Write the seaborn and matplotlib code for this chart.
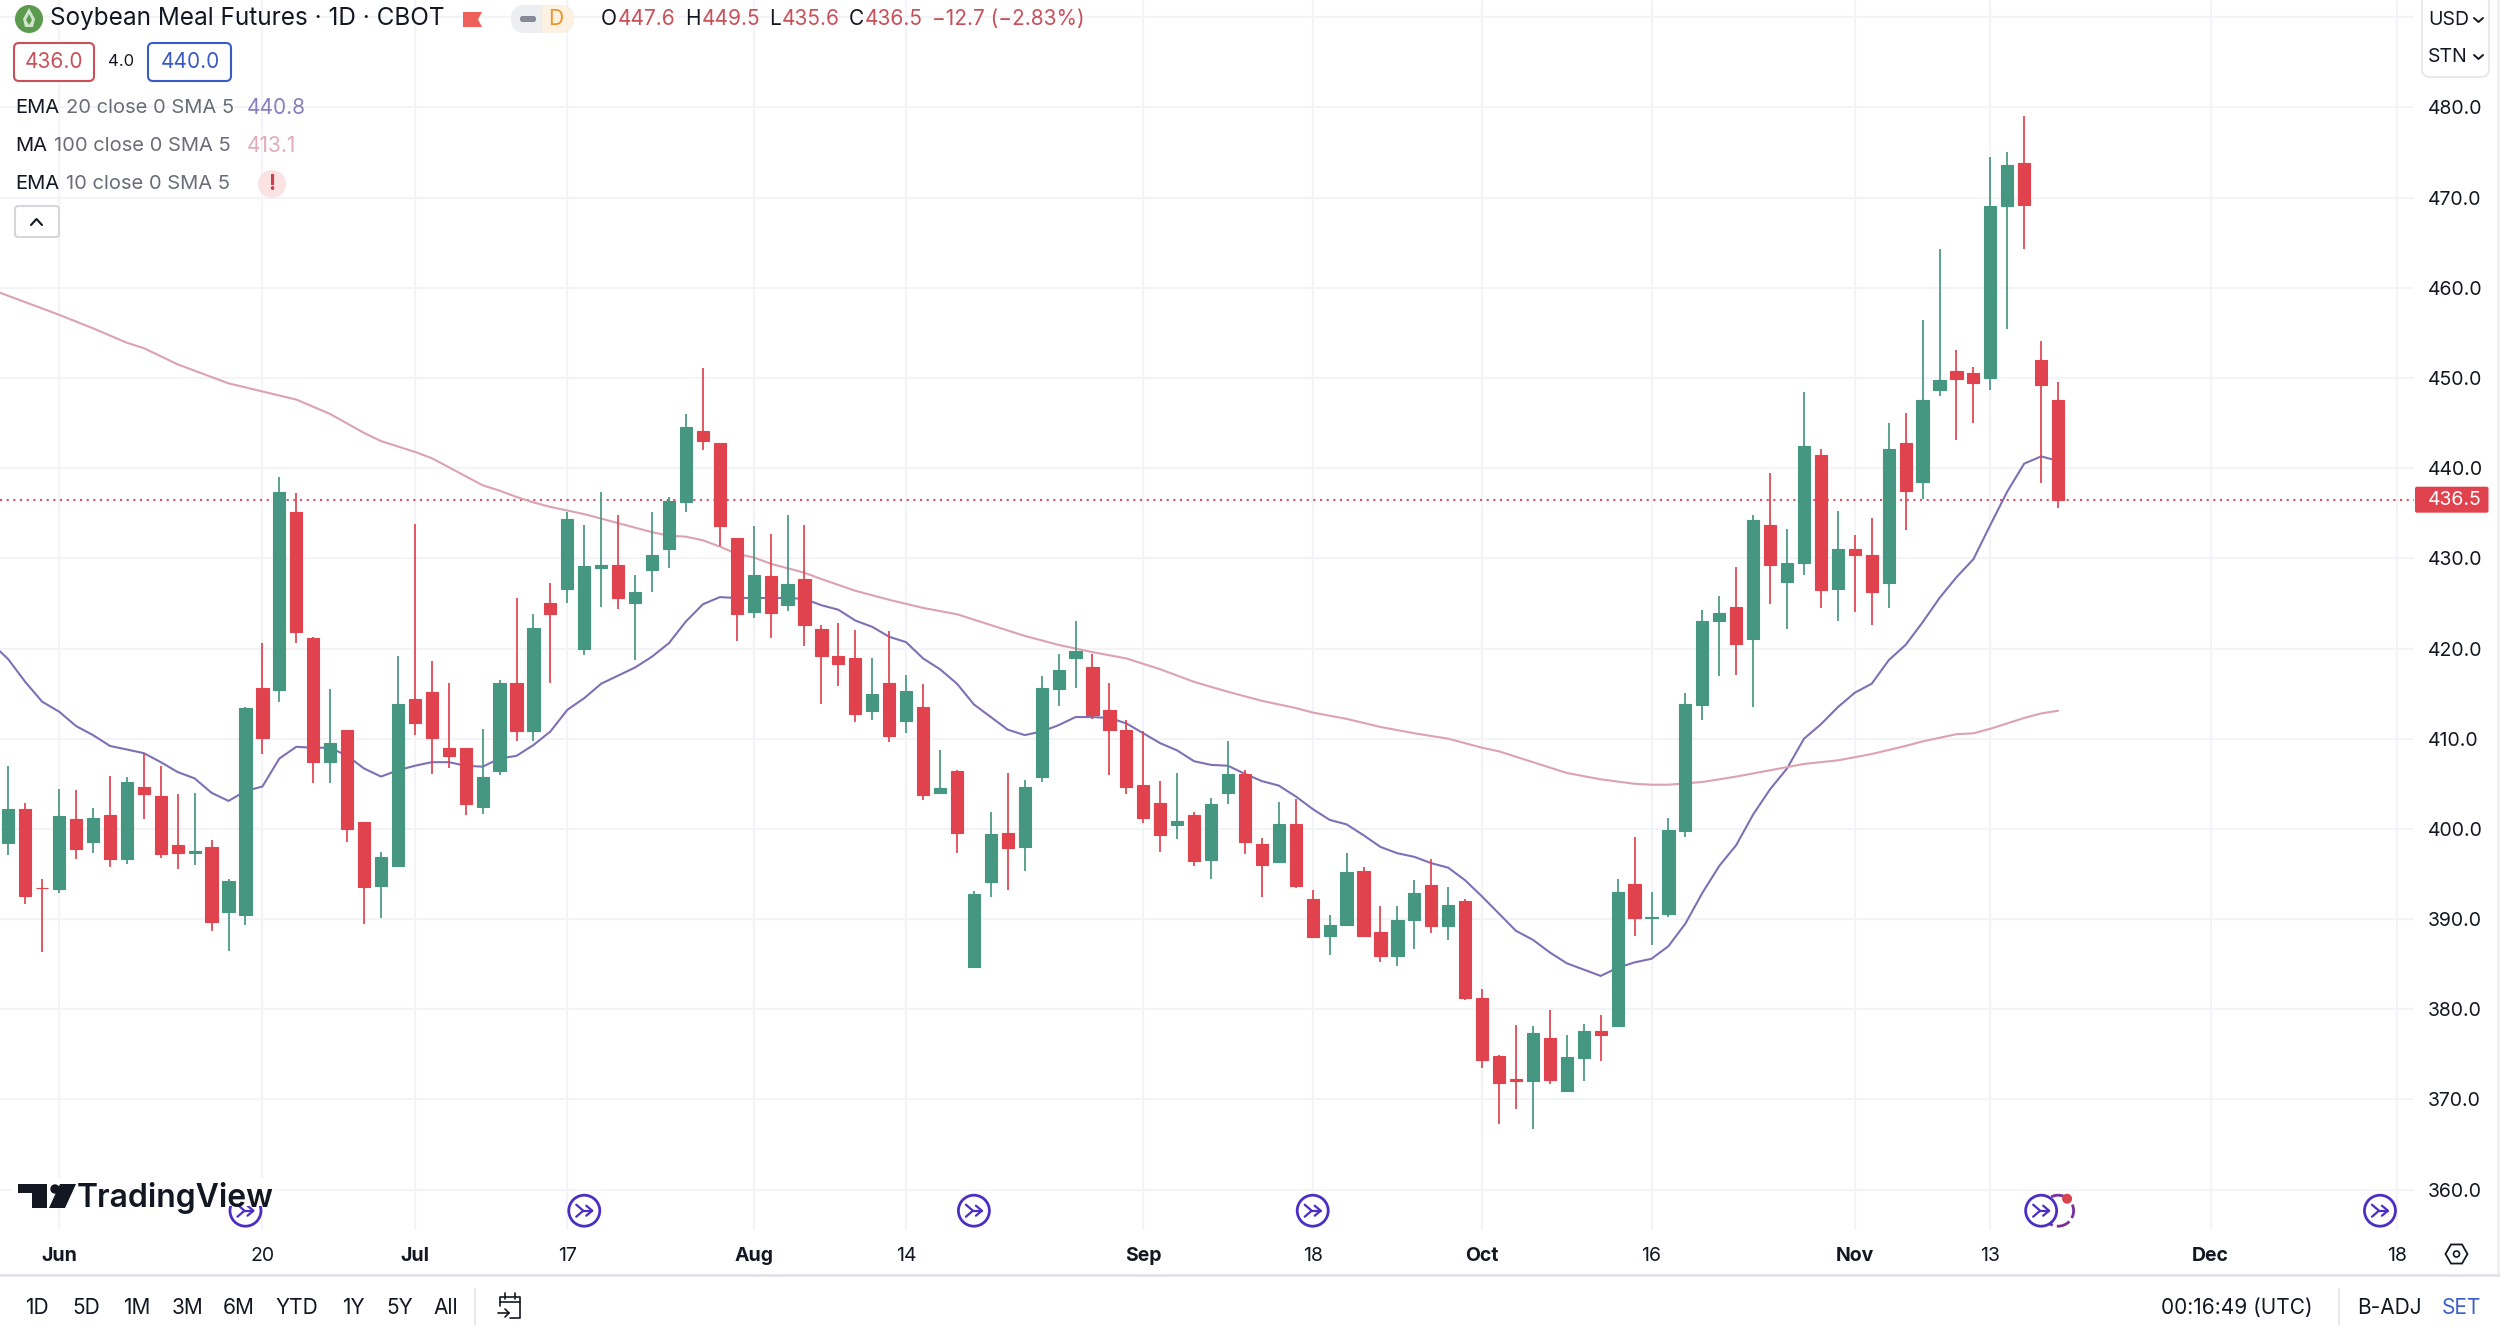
import numpy as np
import pandas as pd
import matplotlib
matplotlib.use('Agg')
import matplotlib.pyplot as plt
from matplotlib.patches import Circle, FancyBboxPatch, Polygon, Rectangle, RegularPolygon
import seaborn as sns

# Candle values, one entry per trading day
opens = [398.4, 402.2, 393.5, 393.3, 401.1, 398.5, 401.5, 396.7, 404.7, 403.6,
         398.2, 397.3, 398.0, 390.8, 390.4, 415.6, 415.4, 435.1, 421.2, 407.4,
         411.0, 400.8, 393.7, 395.9, 414.4, 415.2, 409.0, 409.0, 402.4, 406.4,
         416.2, 410.9, 425.0, 426.6, 420.0, 428.9, 429.3, 425.0, 428.7, 431.0,
         436.2, 444.1, 442.8, 432.2, 424.1, 428.0, 424.8, 427.7, 422.2, 419.2,
         419.0, 413.1, 416.2, 412.0, 413.5, 404.0, 406.4, 384.7, 394.1, 399.5,
         398.0, 405.7, 415.5, 418.9, 418.0, 413.2, 411.0, 404.9, 402.9, 400.4,
         401.5, 396.6, 404.0, 406.1, 398.3, 396.3, 400.5, 392.2, 388.1, 389.3,
         395.3, 388.6, 385.9, 389.9, 393.8, 389.2, 392.0, 381.3, 374.8, 372.3,
         372.0, 376.8, 370.9, 374.6, 377.6, 378.1, 393.9, 390.1, 390.6, 399.8,
         413.7, 423.0, 424.6, 421.0, 433.7, 427.4, 429.5, 441.4, 426.6, 431.0,
         430.4, 427.3, 442.8, 438.5, 448.7, 450.8, 450.5, 450.0, 469.1, 473.8,
         452.0, 447.6]
highs = [407.0, 402.9, 394.5, 404.4, 404.3, 402.3, 405.9, 405.8, 408.3, 407.0,
         403.9, 404.0, 398.8, 394.5, 413.5, 420.6, 439.0, 437.2, 421.3, 415.5,
         411.0, 400.8, 397.4, 419.2, 433.8, 418.6, 416.2, 409.0, 411.1, 416.5,
         425.6, 423.8, 427.3, 435.1, 433.7, 437.4, 434.8, 428.1, 435.1, 436.8,
         446.0, 451.1, 442.8, 432.3, 433.6, 432.7, 434.8, 433.7, 422.6, 422.8,
         422.0, 419.0, 421.9, 417.1, 416.1, 408.8, 406.5, 393.1, 401.9, 406.2,
         405.4, 416.9, 419.4, 423.0, 419.4, 416.2, 412.1, 410.9, 405.3, 406.2,
         401.9, 403.4, 409.8, 406.5, 399.0, 403.0, 403.3, 393.2, 390.4, 397.3,
         395.8, 391.5, 391.4, 394.3, 396.7, 393.6, 392.2, 382.2, 374.9, 378.3,
         378.1, 379.9, 377.2, 378.4, 379.4, 394.5, 399.1, 393.0, 401.2, 415.1,
         424.3, 425.8, 429.0, 434.8, 439.5, 433.2, 448.4, 442.1, 435.3, 432.6,
         434.5, 445.0, 446.1, 456.4, 464.3, 453.1, 451.2, 474.5, 475.0, 479.0,
         454.1, 449.5]
lows = [397.1, 391.7, 386.3, 392.9, 396.7, 397.3, 395.8, 396.1, 401.1, 396.8,
        395.6, 396.0, 388.7, 386.5, 389.4, 408.3, 414.1, 420.6, 405.1, 405.1,
        398.5, 389.5, 390.1, 395.9, 410.4, 406.1, 406.8, 401.5, 401.7, 406.0,
        409.7, 409.8, 416.2, 425.0, 419.3, 424.6, 424.4, 418.7, 426.3, 428.9,
        435.1, 442.0, 431.4, 420.8, 423.4, 421.2, 424.2, 420.3, 413.9, 415.8,
        411.9, 412.1, 409.6, 410.6, 403.2, 403.9, 397.3, 384.7, 392.4, 393.2,
        395.3, 405.2, 413.6, 415.6, 412.2, 406.0, 403.9, 400.6, 397.4, 398.9,
        395.9, 394.5, 402.8, 397.2, 392.5, 396.3, 393.5, 387.9, 386.0, 389.2,
        388.0, 385.2, 384.8, 386.7, 388.5, 387.7, 381.0, 373.5, 367.3, 368.9,
        366.7, 371.7, 370.8, 372.0, 374.3, 378.1, 388.1, 387.1, 390.2, 399.1,
        412.1, 417.0, 417.1, 413.5, 424.9, 422.2, 428.2, 424.5, 423.1, 424.1,
        422.6, 424.5, 433.1, 436.6, 448.0, 443.1, 445.0, 448.7, 455.4, 464.3,
        438.3, 435.6]
closes = [402.2, 392.6, 393.4, 401.4, 397.8, 401.2, 396.7, 405.2, 403.9, 397.2,
          397.3, 397.5, 389.7, 394.2, 413.4, 410.1, 437.3, 421.8, 407.4, 409.5,
          400.0, 393.6, 396.9, 413.9, 411.7, 410.1, 408.1, 402.8, 405.8, 416.2,
          410.9, 422.3, 423.8, 434.4, 429.1, 429.3, 425.6, 426.3, 430.4, 436.3,
          444.6, 443.0, 433.6, 423.8, 428.1, 423.9, 427.1, 422.6, 419.2, 418.3,
          412.7, 415.0, 410.3, 415.3, 403.8, 404.5, 399.5, 392.8, 399.4, 397.9,
          404.6, 415.6, 417.6, 419.7, 412.6, 411.0, 404.7, 401.2, 399.3, 400.9,
          396.4, 402.8, 406.1, 398.5, 396.0, 400.5, 393.7, 388.0, 389.3, 395.2,
          388.1, 385.9, 389.9, 392.9, 389.2, 391.6, 381.3, 374.4, 371.8, 372.1,
          377.4, 372.2, 374.7, 377.6, 377.2, 393.0, 390.1, 390.2, 399.9, 413.9,
          423.0, 423.9, 420.5, 434.3, 429.3, 429.5, 442.5, 426.5, 431.0, 430.4,
          426.3, 442.1, 437.5, 447.5, 449.8, 449.9, 449.4, 469.1, 473.6, 469.2,
          449.2, 436.5]

# EMA 20, starts one day left of the first candle
ema_values = [420.6, 418.8, 416.3, 414.1, 413.0, 411.4, 410.4, 409.2, 408.8, 408.4, 407.4,
              406.3, 405.6, 404.0, 403.1, 404.2, 404.7, 407.8, 409.1, 409.0, 409.0,
              408.1, 406.7, 405.8, 406.5, 407.0, 407.4, 407.4, 407.0, 406.9, 407.8,
              408.1, 409.3, 410.8, 413.2, 414.5, 416.1, 417.0, 417.9, 419.1, 420.6,
              423.0, 424.9, 425.7, 425.6, 425.6, 425.6, 425.6, 425.5, 424.8, 424.3,
              423.1, 422.4, 421.3, 420.7, 418.9, 417.7, 416.1, 413.8, 412.4, 411.0,
              410.4, 410.8, 411.5, 412.4, 412.4, 412.3, 411.7, 410.6, 409.5, 408.7,
              407.5, 407.1, 407.0, 406.1, 405.3, 404.8, 403.6, 402.2, 401.0, 400.5,
              399.3, 398.0, 397.3, 396.9, 396.2, 395.7, 394.3, 392.5, 390.6, 388.7,
              387.7, 386.3, 385.1, 384.4, 383.7, 384.6, 385.2, 385.6, 387.0, 389.5,
              392.9, 395.9, 398.2, 401.6, 404.4, 406.7, 410.0, 411.6, 413.5, 415.1,
              416.1, 418.7, 420.4, 422.9, 425.6, 427.9, 429.9, 433.7, 437.4, 440.5,
              441.3, 440.8]

# MA 100, read at these bars only
ma_bars = [-1, 3, 5, 7, 8, 10, 12, 13, 15, 17, 19, 21, 22, 23, 24, 25, 26, 27, 28, 29,
           30, 31, 32, 33, 34, 35, 36, 37, 38, 39, 40, 41, 42, 43, 44, 45, 46, 47, 48,
           50, 52, 54, 56, 58, 60, 62, 64, 66, 68, 70, 72, 74, 76, 77, 79, 81, 83, 85,
           87, 88, 90, 92, 94, 96, 97, 98, 100, 102, 104, 106, 108, 110, 112, 113,
           115, 116, 117, 118, 119, 120, 121]
ma_values = [459.8, 457.0, 455.5, 453.9, 453.3, 451.5, 450.1, 449.4, 448.5, 447.6, 446.0,
             443.9, 443.0, 442.4, 441.8, 441.1, 440.1, 439.1, 438.1, 437.5, 436.8, 436.2,
             435.7, 435.3, 434.9, 434.4, 433.9, 433.4, 432.9, 432.5, 432.4, 432.0, 431.3,
             430.5, 430.1, 429.4, 428.9, 428.4, 427.7, 426.4, 425.4, 424.5, 423.8, 422.6,
             421.4, 420.4, 419.6, 418.9, 417.7, 416.3, 415.2, 414.2, 413.4, 412.9, 412.2,
             411.3, 410.6, 410.0, 409.0, 408.6, 407.4, 406.2, 405.5, 405.0, 404.9, 404.9,
             405.2, 405.8, 406.5, 407.2, 407.6, 408.3, 409.2, 409.7, 410.5, 410.6, 411.1,
             411.7, 412.3, 412.8, 413.1]

y_ticks = [360, 370, 380, 390, 400, 410, 420, 430, 440, 450, 460, 470, 480, 490]
x_tick_bars = [3, 15, 24, 33, 44, 53, 67, 77, 87, 97, 109, 117, 130, 141]
x_tick_labels = ['Jun', '20', 'Jul', '17', 'Aug', '14', 'Sep', '18', 'Oct', '16', 'Nov', '13', 'Dec', '18']
event_bars = [14, 34, 57, 77, 120, 140]
dividend_bar = 121
last_price = 436.5

GREEN = '#469781'
RED = '#e1434e'
GRID = '#f3f4f7'
INK = '#131722'
GREY = '#6a6d78'
PURPLE = '#4b2fc4'

sns.set_theme(style='white')
plt.rcParams['font.family'] = ['Inter', 'DejaVu Sans']

fig = plt.figure(figsize=(25, 13.25), dpi=100, facecolor='white')
ax = fig.add_axes([0, 95 / 1325, 2414 / 2500, 1230 / 1325])

candles = pd.DataFrame({'open': opens, 'high': highs, 'low': lows, 'close': closes})
candles['bar'] = np.arange(len(candles))
candles['colour'] = np.where(candles['close'] >= candles['open'], GREEN, RED)
ema_df = pd.DataFrame({'bar': np.arange(-1, len(ema_values) - 1), 'value': ema_values})
ma_df = pd.DataFrame({'bar': ma_bars, 'value': ma_values})

sns.lineplot(data=ema_df, x='bar', y='value', color='#7f70b6', linewidth=1.5, ax=ax, zorder=2)
sns.lineplot(data=ma_df, x='bar', y='value', color='#dca2b1', linewidth=1.5, ax=ax, zorder=2)

ax.axhline(last_price, color='#d9505c', linewidth=1.5, linestyle=(0, (1, 2.2)), zorder=1.5)

ax.vlines(candles['bar'], candles['low'], candles['high'], colors=candles['colour'], linewidth=1.25, zorder=3)
body_low = candles[['open', 'close']].min(axis=1)
body_high = candles[['open', 'close']].max(axis=1)
ax.bar(candles['bar'], body_high - body_low, bottom=body_low, width=0.72,
       color=candles['colour'], edgecolor=candles['colour'], linewidth=0.8, zorder=4)

ax.set_xlim(-0.49, 142.01)
ax.set_ylim(355.53, 491.9)
ax.set_xlabel('')
ax.set_ylabel('')
ax.set_xticks(x_tick_bars)
ax.set_xticklabels(x_tick_labels)
ax.set_yticks(y_ticks)
ax.set_yticklabels([f'{v:.1f}' if v < 490 else '' for v in y_ticks])
ax.yaxis.tick_right()
ax.tick_params(axis='y', length=0, pad=10, labelsize=14, labelcolor=INK)
ax.tick_params(axis='x', length=0, pad=12, labelsize=14, labelcolor=INK)
for tick_label, name in zip(ax.get_xticklabels(), x_tick_labels):
    if not name.isdigit():
        tick_label.set_fontweight('bold')
ax.grid(True, color=GRID, linewidth=1.5)
ax.set_axisbelow(True)
sns.despine(ax=ax, left=True, bottom=True, right=True, top=True)

# Everything around the chart lives on an overlay measured in image pixels
ov = fig.add_axes([0, 0, 1, 1], facecolor='none')
ov.set_xlim(0, 2500)
ov.set_ylim(1325, 0)
ov.axis('off')


def label(x, y, text, size=14, color=INK, ha='left', **kw):
    kw.setdefault('zorder', 7)
    ov.text(x, y, text, fontsize=size, color=color, ha=ha, va='center', **kw)


def box(x0, y0, x1, y1, face='white', edge='none', lw=1.5, radius=5, z=5):
    ov.add_patch(FancyBboxPatch((x0, y0), x1 - x0, y1 - y0, boxstyle=f'round,pad=0,rounding_size={radius}',
                                facecolor=face, edgecolor=edge, linewidth=lw, zorder=z))


def stroke(xs, ys, color=INK, lw=1.5, z=7):
    ov.plot(xs, ys, color=color, linewidth=lw, solid_capstyle='round', solid_joinstyle='round', zorder=z)


def event_icon(cx, cy):
    ov.add_patch(Circle((cx, cy), 15.5, facecolor='white', edgecolor=PURPLE, linewidth=2, zorder=5))
    stroke([cx - 8, cx - 1, cx - 8], [cy - 6, cy, cy + 6], PURPLE, 1.6, 6)
    stroke([cx - 1, cx + 8], [cy, cy], PURPLE, 1.6, 6)
    stroke([cx + 2, cx + 8, cx + 2], [cy - 5, cy, cy + 5], PURPLE, 1.6, 6)


# Header row
ov.add_patch(Circle((29, 19), 14, facecolor='#5c9a4f', edgecolor='none'))
ov.add_patch(Polygon([(29, 8), (35, 19), (33, 27), (25, 27), (23, 19)], facecolor='#cfe4ca', edgecolor='none', zorder=3))
ov.add_patch(Polygon([(29, 14), (32, 20), (29, 25), (26, 20)], facecolor='#5c9a4f', edgecolor='none', zorder=4))
label(50, 19, 'Soybean Meal Futures · 1D · CBOT', 17.5)
ov.add_patch(Polygon([(463, 12), (482, 12), (478, 19.5), (482, 27), (463, 27)], facecolor='#f0605a', edgecolor='none'))
box(511, 5, 574, 33, face='#eceef2', radius=14)
ov.add_patch(Rectangle((542, 5), 18, 28, facecolor='#fdf1e2', edgecolor='none', zorder=5.5))
ov.add_patch(Circle((560, 19), 14, facecolor='#fdf1e2', edgecolor='none', zorder=5.5))
box(520, 16, 536, 22, face='#868a94', radius=2.5, z=6)
label(556, 19, 'D', 15, '#f0932b', ha='center')

ohlc_red = '#c8505a'
for x, text, color in [(601, 'O', INK), (618, '447.6', ohlc_red), (685, 'H', INK), (702, '449.5', ohlc_red),
                       (769, 'L', INK), (782, '435.6', ohlc_red), (849, 'C', INK), (865, '436.5', ohlc_red),
                       (932, '−12.7 (−2.83%)', ohlc_red)]:
    label(x, 19, text, 15, color)

# Bid / ask boxes
box(14, 43, 94, 81, edge='#c8505a')
label(54, 62, '436.0', 15, '#c8505a', ha='center')
label(121, 62, '4.0', 12, INK, ha='center')
box(148, 43, 231, 81, edge='#3a5bc7')
label(190, 62, '440.0', 15, '#3a5bc7', ha='center')

# Indicator legend
label(15, 108, 'EMA', 14.5)
label(66, 108, '20 close 0 SMA 5', 14.5, GREY)
label(247, 108, '440.8', 15, '#8a7ebd')
label(15, 146, 'MA', 14.5)
label(54, 146, '100 close 0 SMA 5', 14.5, GREY)
label(247, 146, '413.1', 15, '#e2abba')
label(15, 184, 'EMA', 14.5)
label(66, 184, '10 close 0 SMA 5', 14.5, GREY)
ov.add_patch(Circle((272, 184), 14, facecolor='#fbe3e4', edgecolor='none'))
label(272, 184, '!', 15, '#c8414c', ha='center', fontweight='bold')
box(15, 206, 59, 237, edge='#d5d7dd', radius=3)
stroke([31, 36.5, 42], [225, 219, 225], INK, 1.5)

# Currency and unit selectors
box(2422, -6, 2489, 77, edge='#e8e9ee', radius=8)
label(2428, 20, 'USD', 14)
stroke([2474, 2478.5, 2483], [18, 22, 18], INK, 1.4)
label(2428, 57, 'STN', 14)
stroke([2474, 2478.5, 2483], [55, 59, 55], INK, 1.4)
ov.add_patch(Rectangle((2497, 0), 3, 1275, facecolor='#f0f1f4', edgecolor='none'))

# Last price tag, placed through the price scale
tag_y = 1325 - ax.transData.transform((0, last_price))[1]
box(2415, tag_y - 13, 2488.5, tag_y + 13, face=RED, radius=2)
label(2428, tag_y, f'{last_price:.1f}', 14, 'white')

# Event icons sit on the bars they belong to
icon_y = 1210.7
for bar in event_bars:
    px = ax.transData.transform((bar, 0))[0]
    if bar == event_bars[-2]:
        rx = ax.transData.transform((dividend_bar, 0))[0]
        ov.add_patch(Circle((rx, icon_y), 15.5, facecolor='white', edgecolor='#7a2f9c', linewidth=2, linestyle=(0, (5, 1.5)), zorder=4))
        ov.add_patch(Circle((rx + 9, icon_y - 12), 5, facecolor='#d9434e', edgecolor='none', zorder=6))
    event_icon(px, icon_y)

# TradingView watermark covers what runs behind it
ov.add_patch(Rectangle((12, 1178), 262, 28, facecolor='white', edgecolor='none', zorder=8))
ov.add_patch(Polygon([(17.5, 1184), (47, 1184), (47, 1208), (32, 1208), (32, 1193), (17.5, 1193)], facecolor=INK, edgecolor='none', zorder=9))
ov.add_patch(Circle((55, 1189), 4.7, facecolor=INK, edgecolor='none', zorder=9))
ov.add_patch(Polygon([(60, 1184), (76, 1184), (65, 1208), (49, 1208)], facecolor=INK, edgecolor='none', zorder=9))
label(77, 1197.5, 'TradingView', 23, INK, fontweight='semibold', zorder=9)

# Settings glyph at the end of the time axis
ov.add_patch(RegularPolygon((2456.5, 1254), 6, radius=11, orientation=np.pi / 6, facecolor='none', edgecolor=INK, linewidth=1.3))
ov.add_patch(Circle((2456.5, 1254), 3, facecolor='none', edgecolor=INK, linewidth=1.2))

# Bottom toolbar
ov.add_patch(Rectangle((0, 1274), 2500, 2.5, facecolor='#e2e4ea', edgecolor='none'))
for x, text in zip([37, 86, 137, 188, 239, 297, 353, 400, 446], ['1D', '5D', '1M', '3M', '6M', 'YTD', '1Y', '5Y', 'All']):
    label(x, 1308, text, 15, ha='center')
stroke([475, 475], [1289, 1325], '#e2e4ea', 1.2)
stroke([500, 500, 520, 520, 510], [1306, 1297, 1297, 1318, 1318], INK, 1.2)
stroke([500, 520], [1302, 1302], INK, 1.2)
stroke([505, 505], [1293, 1299], INK, 1.2)
stroke([515, 515], [1293, 1299], INK, 1.2)
stroke([498, 509], [1313, 1313], INK, 1.2)
stroke([505, 509, 505], [1309, 1313, 1317], INK, 1.2)
label(2161, 1308, '00:16:49 (UTC)', 15)
stroke([2338.5, 2338.5], [1289, 1325], '#e2e4ea', 1.2)
label(2357, 1308, 'B-ADJ', 15)
label(2442, 1308, 'SET', 15, '#3a5fc9')

fig.savefig('out.png', dpi=100)
